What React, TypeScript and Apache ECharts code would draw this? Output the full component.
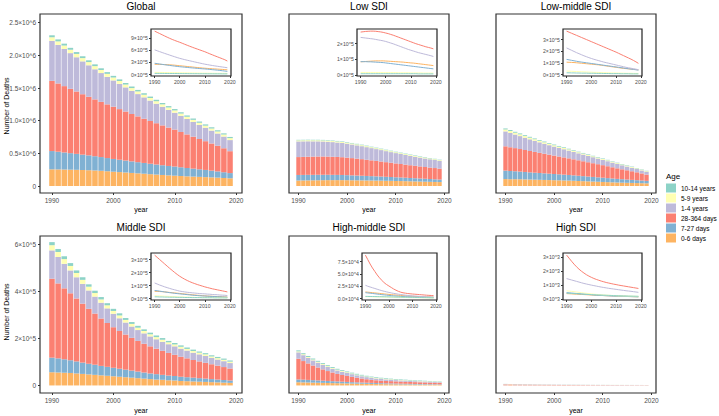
import React, { useEffect, useRef } from "react";
import * as echarts from "echarts";

const years = [1990,1991,1992,1993,1994,1995,1996,1997,1998,1999,2000,2001,2002,2003,2004,2005,2006,2007,2008,2009,2010,2011,2012,2013,2014,2015,2016,2017,2018,2019];

// Stack order bottom -> top
const ageGroups = ["0-6 days", "7-27 days", "28-364 days", "1-4 years", "5-9 years", "10-14 years"];
const ageColors = ["#FDB462", "#80B1D3", "#FB8072", "#BEBADA", "#FFFFB3", "#8DD3C7"];
const legendOrder = ["10-14 years", "5-9 years", "1-4 years", "28-364 days", "7-27 days", "0-6 days"];

const regionNames = ["Global", "Low SDI", "Low-middle SDI", "Middle SDI", "High-middle SDI", "High SDI"];

// Deaths, in thousands
const global_0_6 = [255,254,252,250,248,245,242,238,233,226,219,213,207,200,194,188,181,175,169,163,158,153,148,144,140,136,132,128,123,118];
const global_7_27 = [280,271,262,253,244,235,227,218,210,202,195,189,183,177,171,165,160,154,149,144,140,134,128,122,116,110,103,96,88,80];
const global_28_364 = [1075,1045,1015,985,955,925,897,870,845,822,800,775,750,725,701,677,654,632,610,588,566,540,514,489,464,440,416,392,367,335];
const global_1_4 = [612,590,568,546,524,503,482,461,441,421,402,386,370,355,341,327,313,299,285,271,258,247,236,225,215,206,197,188,179,170];
const global_5_9 = [55,54,53,52,51,50,49,48,47,46,45,44,43,42,41,40,39,38,37,36,35,35,34,33,33,32,32,31,31,30];
const global_10_14 = [30,30,29,29,28,28,27,27,26,26,25,25,24,24,23,23,22,22,21,21,21,20,20,20,19,19,19,18,18,18];

const low_0_6 = [84,85,86,87,88,89,90,90,90,90,89,88,87,86,85,84,83,82,80,79,77,76,74,72,70,68,66,64,62,60];
const low_7_27 = [85,85,85,84,84,83,82,81,80,79,77,75,73,71,69,67,65,63,61,59,57,55,53,51,49,47,45,43,41,39];
const low_28_364 = [274,276,278,279,280,280,279,277,275,272,268,264,259,254,248,242,236,230,224,218,212,206,200,195,190,185,180,176,172,167];
const low_1_4 = [240,238,236,234,232,230,227,224,221,218,214,209,204,199,193,187,181,175,169,163,158,153,148,143,139,135,131,127,123,118];
const low_5_9 = [16,16,16,16,16,16,16,16,16,15,15,15,15,15,15,14,14,14,14,14,13,13,13,13,13,12,12,12,12,12];
const low_10_14 = [8,8,8,8,8,8,8,8,8,8,8,8,8,8,8,8,8,8,8,8,8,8,8,7,7,7,7,7,7,7];

const lowmid_0_6 = [106,105,104,103,101,99,97,95,93,91,89,87,85,83,80,77,74,71,68,65,62,59,56,53,51,49,47,45,43,41];
const lowmid_7_27 = [130,126,122,118,114,110,107,104,101,98,95,92,89,86,83,80,77,74,71,68,65,62,59,56,53,50,47,44,41,38];
const lowmid_28_364 = [372,363,354,345,336,327,318,309,300,291,282,273,264,255,246,237,228,219,210,201,192,182,172,162,152,142,132,121,109,96];
const lowmid_1_4 = [228,218,208,198,188,179,170,161,153,145,138,131,125,119,113,107,102,97,92,87,82,77,72,67,62,58,54,50,46,42];
const lowmid_5_9 = [30,29,28,27,26,25,24,23,22,21,20,19,19,18,17,16,16,15,14,14,13,13,12,12,11,11,11,10,10,10];
const lowmid_10_14 = [15,15,14,14,13,13,12,12,12,11,11,11,10,10,10,9,9,9,8,8,8,8,7,7,7,7,6,6,6,6];

const middle_0_6 = [56,55,54,53,51,49,47,45,43,41,39,37,35,33,31,29,27,25,24,22,21,19,18,17,16,15,14,13,12,11];
const middle_7_27 = [62,60,57,54,51,48,45,43,40,38,36,34,32,30,28,26,24,23,21,20,19,18,17,16,15,14,13,12,11,10];
const middle_28_364 = [335,318,301,284,267,250,233,217,201,186,172,160,149,139,130,122,115,108,102,96,90,85,80,75,71,67,63,59,55,51];
const middle_1_4 = [120,112,104,97,90,84,78,72,67,62,57,54,51,48,46,44,42,40,38,37,36,34,33,31,30,29,27,26,25,23];
const middle_5_9 = [22,21,20,19,18,17,16,15,14,13,12,12,11,11,10,10,9,9,9,8,8,8,7,7,7,7,6,6,6,6];
const middle_10_14 = [13,13,12,12,11,11,10,10,10,9,9,9,8,8,8,7,7,7,7,6,6,6,6,6,5,5,5,5,5,5];

const highmid_0_6 = [13.5,13,12.5,12,11.5,11,10.5,10,9.5,9,8.5,8,7.6,7.2,6.8,6.4,6,5.7,5.4,5.1,4.8,4.5,4.3,4.1,3.9,3.7,3.5,3.3,3.1,2.9];
const highmid_7_27 = [12,11.5,11,10.4,9.8,9.2,8.6,8,7.5,7,6.5,6,5.6,5.2,4.8,4.5,4.2,3.9,3.6,3.4,3.2,3,2.8,2.6,2.5,2.4,2.3,2.2,2.1,2];
const highmid_28_364 = [88,79,70,62,55,48,42,37,32,28.5,25.5,22.5,19.5,17,14.8,13,11.8,11,10.3,9.8,9.3,8.9,8.5,8.1,7.7,7.3,6.9,6.6,6.3,6];
const highmid_1_4 = [27,25,23.5,22,20.5,19,17.5,16,14.8,13.6,12.5,11.5,10.6,9.8,9,8.3,7.6,7,6.4,5.9,5.5,5.1,4.8,4.5,4.2,3.9,3.7,3.5,3.3,3.1];
const highmid_5_9 = [4,3.9,3.8,3.7,3.6,3.5,3.4,3.3,3.2,3.1,3,2.9,2.8,2.7,2.6,2.5,2.4,2.3,2.2,2.1,2,1.95,1.9,1.85,1.8,1.75,1.7,1.65,1.6,1.5];
const highmid_10_14 = [4.5,4.4,4.3,4.2,4.1,4,3.9,3.8,3.7,3.6,3.5,3.4,3.3,3.2,3.1,3,2.9,2.8,2.7,2.6,2.5,2.4,2.3,2.2,2.1,2,1.9,1.8,1.7,1.6];

const high_0_6 = [0.40,0.39,0.38,0.37,0.36,0.35,0.34,0.33,0.32,0.31,0.30,0.29,0.282,0.274,0.266,0.258,0.25,0.243,0.236,0.229,0.222,0.216,0.21,0.204,0.198,0.192,0.186,0.18,0.175,0.17];
const high_7_27 = [0.47,0.455,0.44,0.425,0.41,0.395,0.38,0.365,0.35,0.335,0.32,0.305,0.29,0.28,0.27,0.26,0.25,0.24,0.23,0.22,0.215,0.21,0.205,0.2,0.195,0.19,0.185,0.18,0.175,0.17];
const high_28_364 = [3.17,2.95,2.73,2.52,2.33,2.16,2.01,1.88,1.76,1.66,1.57,1.49,1.42,1.36,1.30,1.25,1.20,1.16,1.12,1.08,1.05,1.01,0.98,0.95,0.92,0.89,0.86,0.83,0.80,0.77];
const high_1_4 = [1.48,1.43,1.38,1.33,1.28,1.23,1.18,1.13,1.09,1.05,1.01,0.975,0.94,0.905,0.87,0.84,0.81,0.78,0.755,0.73,0.705,0.68,0.655,0.63,0.605,0.585,0.565,0.54,0.515,0.49];
const high_5_9 = [0.60,0.58,0.56,0.54,0.515,0.49,0.465,0.44,0.42,0.40,0.38,0.36,0.345,0.33,0.315,0.30,0.29,0.28,0.27,0.26,0.25,0.24,0.235,0.23,0.225,0.22,0.215,0.21,0.205,0.20];
const high_10_14 = [0.43,0.42,0.41,0.40,0.39,0.38,0.37,0.36,0.35,0.34,0.33,0.32,0.312,0.304,0.296,0.288,0.28,0.272,0.265,0.258,0.252,0.246,0.24,0.235,0.23,0.225,0.22,0.215,0.21,0.205];

// Axis ticks and labels
const mainXTicks = [1990, 2000, 2010, 2020];
const mainYTicksTop = [0, 500000, 1000000, 1500000, 2000000, 2500000];
const mainYLabelsTop = ["0", "0.5×10^6", "1.0×10^6", "1.5×10^6", "2.0×10^6", "2.5×10^6"];
const mainYTicksBottom = [0, 200000, 400000, 600000];
const mainYLabelsBottom = ["0", "2×10^5", "4×10^5", "6×10^5"];

const insetTicksGlobal = [0, 300000, 600000, 900000];
const insetLabelsGlobal = ["0×10^5", "3×10^5", "6×10^5", "9×10^5"];
const insetTicksLow = [0, 100000, 200000];
const insetLabelsLow = ["0×10^5", "1×10^5", "2×10^5"];
const insetTicksLowMid = [0, 100000, 200000, 300000];
const insetLabelsLowMid = ["0×10^5", "1×10^5", "2×10^5", "3×10^5"];
const insetTicksMiddle = [0, 100000, 200000, 300000];
const insetLabelsMiddle = ["0×10^5", "1×10^5", "2×10^5", "3×10^5"];
const insetTicksHighMid = [0, 25000, 50000, 75000];
const insetLabelsHighMid = ["0.0×10^4", "2.5×10^4", "5.0×10^4", "7.5×10^4"];
const insetTicksHigh = [0, 1000, 2000, 3000];
const insetLabelsHigh = ["0×10^3", "1×10^3", "2×10^3", "3×10^3"];

const regionSeries = [
  [global_0_6, global_7_27, global_28_364, global_1_4, global_5_9, global_10_14],
  [low_0_6, low_7_27, low_28_364, low_1_4, low_5_9, low_10_14],
  [lowmid_0_6, lowmid_7_27, lowmid_28_364, lowmid_1_4, lowmid_5_9, lowmid_10_14],
  [middle_0_6, middle_7_27, middle_28_364, middle_1_4, middle_5_9, middle_10_14],
  [highmid_0_6, highmid_7_27, highmid_28_364, highmid_1_4, highmid_5_9, highmid_10_14],
  [high_0_6, high_7_27, high_28_364, high_1_4, high_5_9, high_10_14],
];
const insetTicks = [insetTicksGlobal, insetTicksLow, insetTicksLowMid, insetTicksMiddle, insetTicksHighMid, insetTicksHigh];
const insetLabels = [insetLabelsGlobal, insetLabelsLow, insetLabelsLowMid, insetLabelsMiddle, insetLabelsHighMid, insetLabelsHigh];

// Layout (pixels)
const colBoxes = [[40, 242], [289, 449], [496, 656]];
const rowBoxes = [[14, 193], [236, 393]];
const rowYRange = [[-107000, 2633000], [-32000, 634000]];
const insetXBoxes = [[151, 231], [357, 437], [563, 642], [151, 231], [362, 437], [563, 642]];
const insetYBoxes = [[29, 76], [253, 300]];
const mainXRange = [1988.05, 2020.95];
const insetXRange = [1988.55, 2020.45];

const FONT = "Liberation Sans, Arial, Helvetica, sans-serif";
const AXIS_COL = "#4D4D4D";

function fmt(ticks: number[], labels: string[]) {
  return (v: number) => {
    const i = ticks.findIndex((t) => Math.abs(t - v) < 1e-6 * Math.max(1, Math.abs(t)));
    return i >= 0 ? labels[i] : "";
  };
}

export default function App() {
  const ref = useRef<HTMLDivElement>(null);
  useEffect(() => {
    if (!ref.current) return;
    const chart = echarts.init(ref.current, undefined, { renderer: "svg" });
    const grid: any[] = [];
    const xAxis: any[] = [];
    const yAxis: any[] = [];
    const series: any[] = [];
    const graphic: any[] = [];

    regionNames.forEach((name, r) => {
      const row = r < 3 ? 0 : 1;
      const col = r % 3;
      const [l, rgt] = colBoxes[col];
      const [t, b] = rowBoxes[row];
      const w = rgt - l;
      const h = b - t;
      const gi = grid.length;
      grid.push({ left: l, top: t, width: w, height: h, show: true, borderColor: "#333", borderWidth: 1.2, backgroundColor: "#fff", z: 0 });
      xAxis.push({
        type: "value", gridIndex: gi, min: mainXRange[0], max: mainXRange[1],
        axisLine: { show: false, onZero: false }, splitLine: { show: false },
        axisTick: { show: true, length: 2, lineStyle: { color: "#333" }, customValues: mainXTicks },
        axisLabel: { show: true, customValues: mainXTicks, formatter: (v: number) => String(Math.round(v)), fontSize: 6.5, color: AXIS_COL, margin: 4, fontFamily: FONT },
      });
      const showY = col === 0;
      const yT = row === 0 ? mainYTicksTop : mainYTicksBottom;
      const yL = row === 0 ? mainYLabelsTop : mainYLabelsBottom;
      yAxis.push({
        type: "value", gridIndex: gi, min: rowYRange[row][0], max: rowYRange[row][1],
        axisLine: { show: false, onZero: false }, splitLine: { show: false },
        axisTick: { show: showY, length: 2, lineStyle: { color: "#333" }, customValues: yT },
        axisLabel: { show: showY, customValues: yT, formatter: fmt(yT, yL), fontSize: 6.5, color: AXIS_COL, margin: 4, fontFamily: FONT },
      });
      const barW = (0.9 * w) / (mainXRange[1] - mainXRange[0]);
      regionSeries[r].forEach((vals, a) => {
        series.push({
          type: "bar", name: ageGroups[a], xAxisIndex: gi, yAxisIndex: gi, stack: "s" + r,
          barWidth: barW, itemStyle: { color: ageColors[a] },
          // value first so that the value dimension is the stacked one
          encode: { x: 1, y: 0 },
          data: years.map((y, k) => [vals[k] * 1000, y]), z: 2,
        });
      });

      // inset
      const [il, ir] = insetXBoxes[r];
      const [it, ib] = insetYBoxes[row];
      const ii = grid.length;
      grid.push({ left: il, top: it, width: ir - il, height: ib - it, show: true, borderColor: "#222", borderWidth: 1.2, backgroundColor: "#fff", z: 10 });
      const all = regionSeries[r].flat().map((v) => v * 1000);
      const lo = Math.min(...all);
      const hi = Math.max(...all);
      const rg = hi - lo;
      let ymin = lo - 0.05 * rg;
      if (ymin > 0) ymin = -0.02 * rg;
      const ymax = hi + 0.05 * rg;
      xAxis.push({
        type: "value", gridIndex: ii, min: insetXRange[0], max: insetXRange[1], z: 11,
        axisLine: { show: false, onZero: false }, splitLine: { show: false },
        axisTick: { show: true, length: 2, lineStyle: { color: "#333" }, customValues: mainXTicks },
        axisLabel: { show: true, customValues: mainXTicks, formatter: (v: number) => String(Math.round(v)), fontSize: 5.2, color: AXIS_COL, margin: 3, fontFamily: FONT },
      });
      yAxis.push({
        type: "value", gridIndex: ii, min: ymin, max: ymax, z: 11,
        axisLine: { show: false, onZero: false }, splitLine: { show: false },
        axisTick: { show: true, length: 2, lineStyle: { color: "#333" }, customValues: insetTicks[r] },
        axisLabel: { show: true, customValues: insetTicks[r], formatter: fmt(insetTicks[r], insetLabels[r]), fontSize: 5.2, color: AXIS_COL, margin: 3, fontFamily: FONT },
      });
      regionSeries[r].forEach((vals, a) => {
        series.push({
          type: "line", name: ageGroups[a], xAxisIndex: ii, yAxisIndex: ii, showSymbol: false, symbol: "none",
          lineStyle: { color: ageColors[a], width: 1 }, itemStyle: { color: ageColors[a] },
          data: years.map((y, k) => [y, vals[k] * 1000]), z: 12, silent: true,
        });
      });

      // texts
      const cx = (l + rgt) / 2;
      graphic.push({ type: "text", x: cx, y: row === 0 ? 6 : 227, style: { text: name, fontSize: 10, fontFamily: FONT, fill: "#000", align: "center", verticalAlign: "middle" } });
      graphic.push({ type: "text", x: cx, y: row === 0 ? 209.5 : 410, style: { text: "year", fontSize: 7, fontFamily: FONT, fill: "#000", align: "center", verticalAlign: "middle" } });
    });

    graphic.push({ type: "text", x: 6, y: 106, rotation: Math.PI / 2, style: { text: "Number of Deaths", fontSize: 7, fontFamily: FONT, fill: "#000", align: "center", verticalAlign: "middle" } });
    graphic.push({ type: "text", x: 6, y: 312, rotation: Math.PI / 2, style: { text: "Number of Deaths", fontSize: 7, fontFamily: FONT, fill: "#000", align: "center", verticalAlign: "middle" } });
    graphic.push({ type: "text", x: 666, y: 176, style: { text: "Age", fontSize: 8, fontFamily: FONT, fill: "#000", align: "left", verticalAlign: "middle" } });

    chart.setOption({
      animation: false,
      textStyle: { fontFamily: FONT },
      grid, xAxis, yAxis, series, graphic,
      legend: {
        data: legendOrder, orient: "vertical", left: 666, top: 183.5, padding: 0,
        itemWidth: 10, itemHeight: 9, itemGap: 1, icon: "rect",
        textStyle: { fontSize: 6.5, color: "#000", fontFamily: FONT, padding: [0, 0, 0, 0] },
        selectedMode: false,
      },
    });
    return () => chart.dispose();
  }, []);
  return <div ref={ref} style={{ position: "absolute", left: 0, top: 0, width: 719, height: 416 }} />;
}
